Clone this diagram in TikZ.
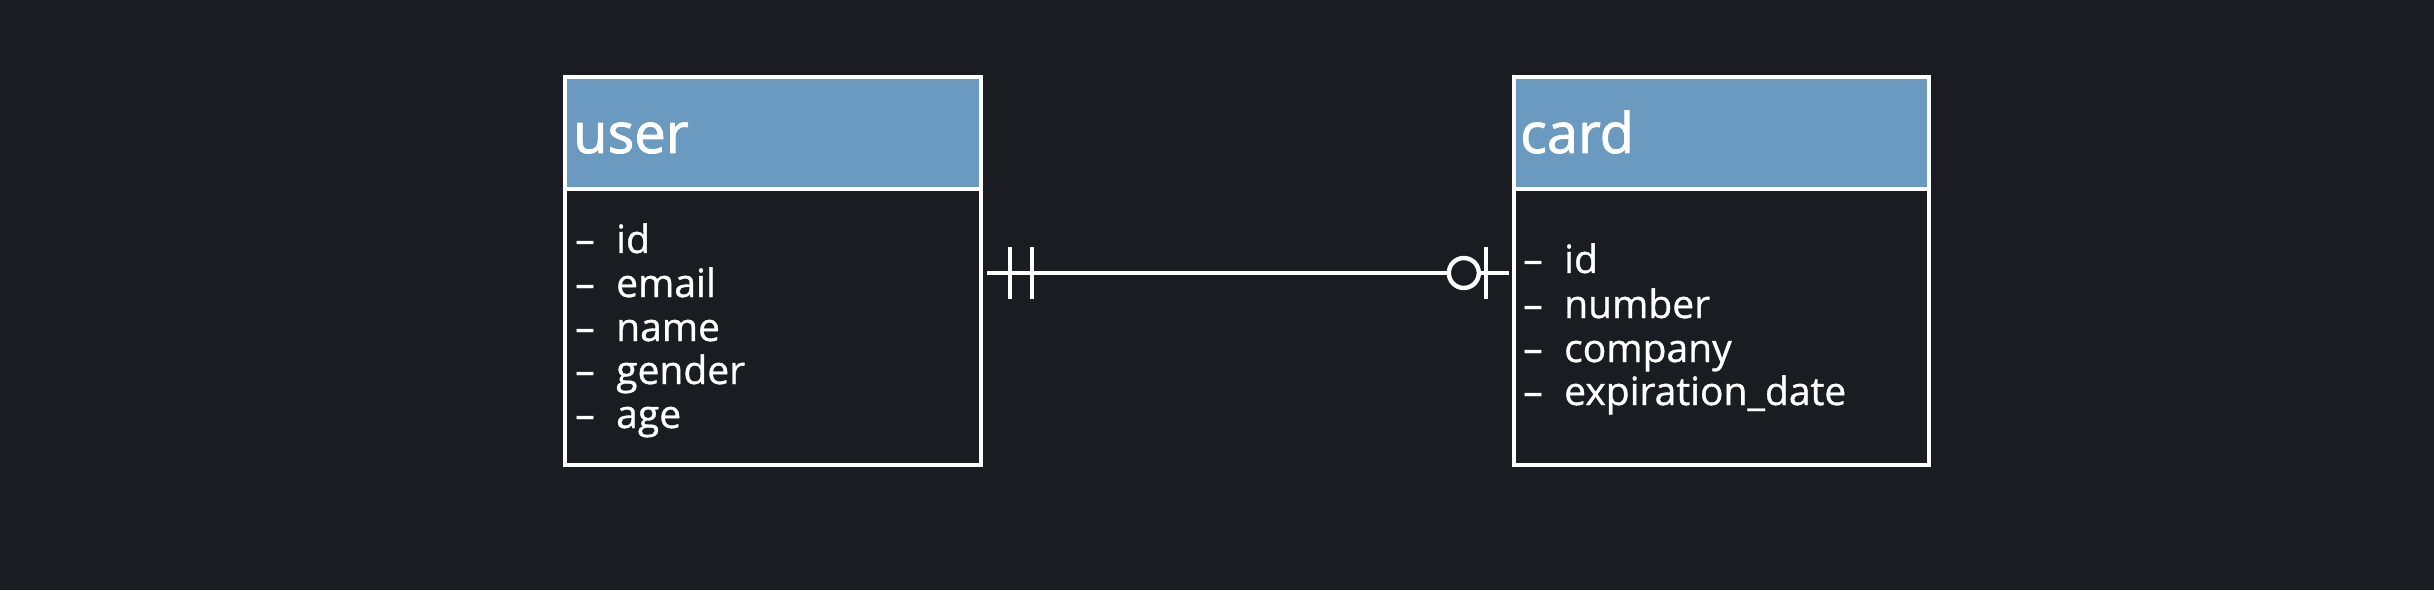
\documentclass[tikz,border=0pt]{standalone}
\usepackage{fontspec}
\setmainfont{Open Sans}[FakeBold=0.9]
\newfontfamily\erhead{Open Sans}[FakeBold=1.6]
\definecolor{bg}{HTML}{1A1C21}
\definecolor{hdr}{HTML}{6A9AC0}
\newcommand{\fdash}{\makebox[41pt][l]{–}}
\begin{document}
\begin{tikzpicture}[x=1pt,y=1pt,
  hdrbox/.style={rectangle,draw=white,fill=hdr,line width=4.4pt,minimum height=112pt,inner sep=0pt},
  bodybox/.style={rectangle,draw=white,fill=bg,line width=4.4pt,minimum height=276pt,inner sep=0pt},
  title/.style={anchor=base west,inner sep=0pt,text=white,font=\erhead\fontsize{56}{56}\selectfont},
  field/.style={anchor=base west,inner sep=0pt,text=white,font=\fontsize{39}{44}\selectfont},
  conn/.style={draw=white,line width=4.4pt},
  tick/.style={draw=white,line width=4.4pt}]
\fill[bg] (0,0) rectangle (2434,590);
\useasboundingbox (0,0) rectangle (2434,590);
\node[hdrbox,minimum width=416pt] (userh) at (773,457) {};
\node[bodybox,minimum width=416pt] (userb) at (773,263) {};
\node[hdrbox,minimum width=415pt] (cardh) at (1721.5,457) {};
\node[bodybox,minimum width=415pt] (cardb) at (1721.5,263) {};
\node[title] (usert) at (573,437) {user};
\node[title] (cardt) at (1520,437) {card};
\node[field] (u1) at (575,337) {\fdash id};
\node[field] (u2) at (575,293) {\fdash email};
\node[field] (u3) at (575,249) {\fdash name};
\node[field] (u4) at (575,206) {\fdash gender};
\node[field] (u5) at (575,162) {\fdash age};
\node[field] (c1) at (1523,317) {\fdash id};
\node[field] (c2) at (1523,272) {\fdash number};
\node[field] (c3) at (1523,228) {\fdash company};
\node[field] (c4) at (1523,185) {\fdash expiration\_date};
\coordinate (ls) at ([xshift=4pt,yshift=54pt]userb.east);
\coordinate (le) at ([xshift=-3pt,yshift=54pt]cardb.west);
\draw[conn] (ls) -- (le);
\draw[tick] ([xshift=23pt,yshift=26pt]ls) -- ([xshift=23pt,yshift=-26pt]ls);
\draw[tick] ([xshift=45pt,yshift=26pt]ls) -- ([xshift=45pt,yshift=-26pt]ls);
\draw[tick] ([xshift=-23pt,yshift=26pt]le) -- ([xshift=-23pt,yshift=-26pt]le);
\draw[conn,fill=bg] ([xshift=-45pt]le) circle (15pt);
\end{tikzpicture}
\end{document}
